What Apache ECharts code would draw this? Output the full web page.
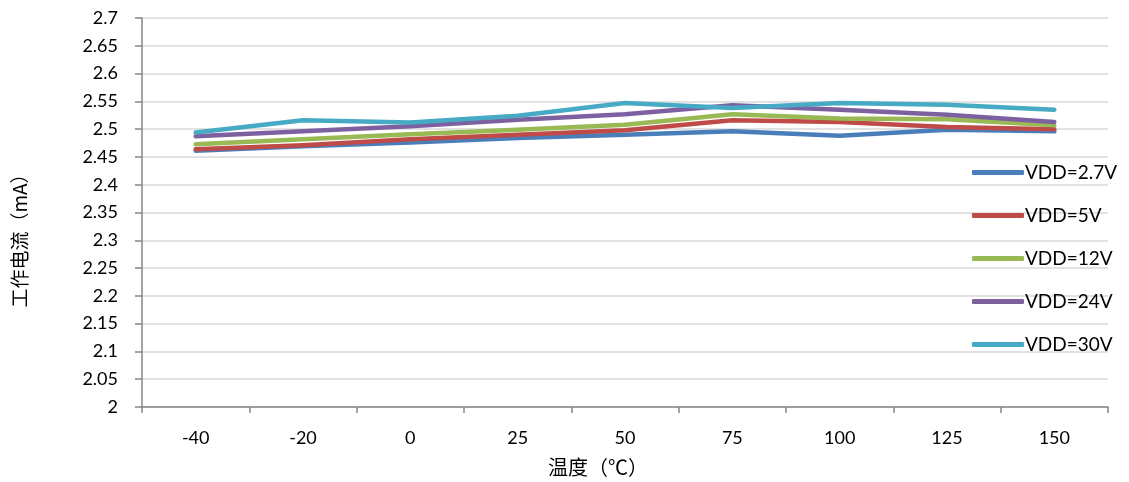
<!DOCTYPE html>
<html><head><meta charset="utf-8">
<script src="https://cdn.jsdelivr.net/npm/echarts@6/dist/echarts.min.js"></script>
<style>html,body{margin:0;padding:0;background:#fff}#c{width:1129px;height:482px}</style>
</head><body><div id="c"></div>
<script>
const categories = ['-40','-20','0','25','50','75','100','125','150'];
const vdd27 = [2.461, 2.469, 2.476, 2.484, 2.490, 2.496, 2.488, 2.499, 2.496];
const vdd5  = [2.464, 2.471, 2.482, 2.490, 2.498, 2.516, 2.513, 2.504, 2.500];
const vdd12 = [2.473, 2.482, 2.491, 2.499, 2.508, 2.527, 2.519, 2.518, 2.507];
const vdd24 = [2.487, 2.496, 2.505, 2.517, 2.527, 2.543, 2.535, 2.526, 2.513];
const vdd30 = [2.494, 2.516, 2.512, 2.524, 2.547, 2.538, 2.547, 2.544, 2.535];
const seriesNames = ['VDD=2.7V','VDD=5V','VDD=12V','VDD=24V','VDD=30V'];
const colors = ['#4a7ebb','#be4b48','#98b954','#7d60a0','#46aac5'];
const dataSets = [vdd27, vdd5, vdd12, vdd24, vdd30];

const chart = echarts.init(document.getElementById('c'));
const labelFont = {fontFamily:'Lato, "Noto Sans", sans-serif', fontSize:18, color:'#000'};
chart.setOption({
  animation:false,
  color: colors,
  grid:{left:142, right:21, top:18, bottom:75},
  legend:{
    orient:'vertical', left:967, top:158, itemWidth:52, itemHeight:5, itemGap:24,
    icon:'roundRect',
    textStyle:{fontFamily:'Lato, "Noto Sans", sans-serif', fontSize:19, color:'#000', padding:[0,0,0,-4]},
    data: seriesNames
  },
  xAxis:{
    type:'category', data:categories, boundaryGap:true,
    axisLine:{lineStyle:{color:'#868686', width:1.5}},
    axisTick:{show:true, length:6, lineStyle:{color:'#868686', width:1.5}},
    axisLabel:Object.assign({margin:22}, labelFont)
  },
  yAxis:{
    type:'value', min:2, max:2.7, interval:0.05,
    axisLine:{show:true, lineStyle:{color:'#868686', width:1.5}},
    axisTick:{show:true, length:7, lineStyle:{color:'#868686', width:1.5}},
    axisLabel:Object.assign({margin:24, formatter:v=>String(+v.toFixed(2))}, labelFont),
    splitLine:{lineStyle:{color:'#d9d9d9', width:1.5}}
  },
  graphic:[
    {type:'text', x:598, y:467, style:{text:'温度（℃）', fill:'#000', fontSize:20, fontFamily:'"Noto Sans CJK SC"', textAlign:'center', textVerticalAlign:'middle'}},
    {type:'text', x:20, y:236, rotation:Math.PI/2, style:{text:'工作电流（mA）', fill:'#000', fontSize:19, fontFamily:'"Noto Sans CJK SC"', textAlign:'center', textVerticalAlign:'middle'}}
  ],
  series: dataSets.map((d,i)=>({
    name: seriesNames[i], type:'line', data:d, showSymbol:false, symbol:'none',
    lineStyle:{width:4.5, color:colors[i], cap:'round', join:'round'}
  }))
});
</script></body></html>
